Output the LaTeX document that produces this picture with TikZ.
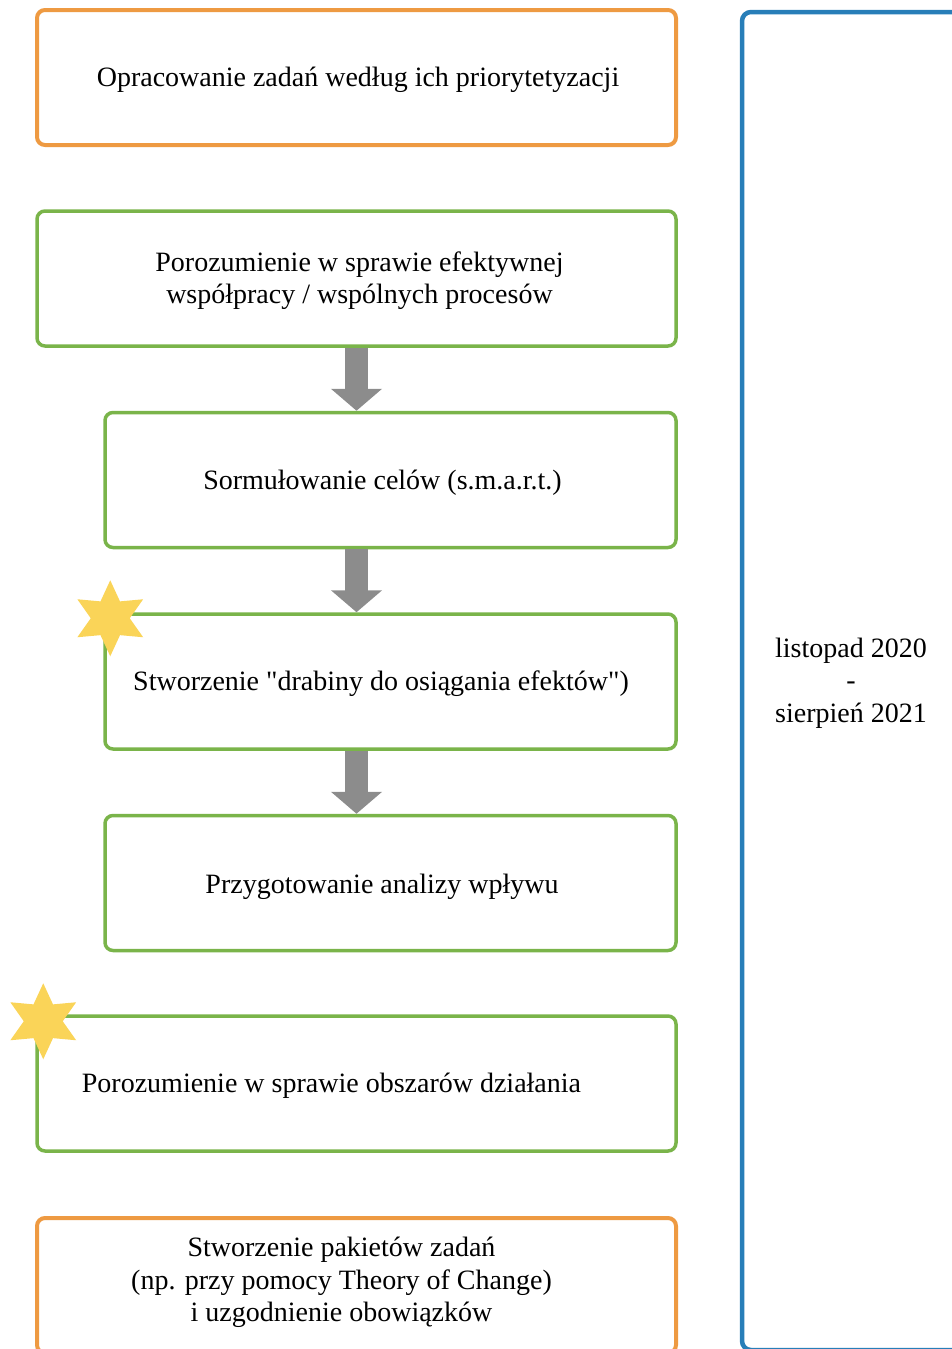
\documentclass[tikz,border=0pt]{standalone}
\usepackage{fontspec}
\setmainfont{Liberation Serif}[Ligatures=TeXOff]
\usetikzlibrary{positioning}
\usetikzlibrary{calc}
\usetikzlibrary{arrows.meta}
\usetikzlibrary{shapes.geometric}
\definecolor{orangeline}{RGB}{238,154,66}
\definecolor{greenline}{RGB}{122,180,74}
\definecolor{blueline}{RGB}{40,126,184}
\definecolor{arrowgray}{RGB}{140,140,140}
\definecolor{staryellow}{RGB}{250,212,88}

\begin{document}
\begin{tikzpicture}
    [x=1pt, y=-1pt,
    task/.style={rectangle, rounded corners=8pt, fill=white, line width=3.5pt, inner sep=0pt, minimum height=135pt},
    wide/.style={task, minimum width=639pt},
    narrow/.style={task, minimum width=571pt},
    orangebox/.style={draw=orangeline, line width=4pt},
    greenbox/.style={draw=greenline},
    period/.style={rectangle, rounded corners=9pt, draw=blueline, line width=4.5pt, inner sep=0pt, minimum width=220pt, minimum height=1338pt},
    txt/.style={align=center, inner sep=0pt, font=\fontsize{28}{32.5}\selectfont},
    flow/.style={draw=arrowgray, line width=23pt, -{Triangle[width=50pt, length=22pt]}},
    starmark/.style={star, star points=6, star point ratio=1.95, fill=staryellow, minimum size=76pt, inner sep=0pt}]
    \clip (0, 0) rectangle (952, 1349);
    %\draw[step=100pt,gray,very thin] (0,0) grid (952,1349);
    \node[wide, orangebox]   (prio) at (356.5, 77.5)   {};
    \node[wide, greenbox]    (coop) at (356.5, 278.5)  {};
    \node[narrow, greenbox]  (goals) at (390.5, 480)   {};
    \node[narrow, greenbox]  (ladder) at (390.5, 681.5) {};
    \node[narrow, greenbox]  (impact) at (390.5, 883)  {};
    \node[wide, greenbox]    (areas) at (356.5, 1083.5) {};
    \node[wide, orangebox]   (packs) at (356.5, 1285.5) {};
    \node[period]            (time) at (852, 681)      {};
    \node[txt] (prio-t) at ($(prio)+(1.5, 2)$) {Opracowanie zadań według ich priorytetyzacji};
    \node[txt] (coop-t) at ($(coop)+(3, 2)$) {Porozumienie w sprawie efektywnej\\współpracy / wspólnych procesów};
    \node[txt] (goals-t) at ($(goals)+(-8, 3)$) {Sormułowanie celów (s.m.a.r.t.)};
    \node[txt] (ladder-t) at ($(ladder)+(-9.5, 2)$) {Stworzenie "drabiny do osiągania efektów")};
    \node[txt] (impact-t) at ($(impact)+(-8.5, 4)$) {Przygotowanie analizy wpływu};
    \node[txt] (areas-t) at ($(areas)+(-25, 2)$) {Porozumienie w sprawie obszarów działania};
    \node[txt] (packs-t) at ($(packs)+(-15, -3)$) {Stworzenie pakietów zadań\\(np. przy pomocy Theory of Change)\\i uzgodnienie obowiązków};
    \node[txt] (time-t) at ($(time)+(-1, 2)$) {listopad 2020\\-\\sierpień 2021};
    \draw[flow] (coop.south) -- (coop.south |- goals.north);
    \draw[flow] (goals.south -| coop.south) -- (coop.south |- ladder.north);
    \draw[flow] (ladder.south -| coop.south) -- (coop.south |- impact.north);
    \node[starmark] (star1) at ($(ladder.north west)+(7, 6)$) {};
    \node[starmark] (star2) at ($(areas.north west)+(8, 7)$) {};
\end{tikzpicture}
\end{document}
